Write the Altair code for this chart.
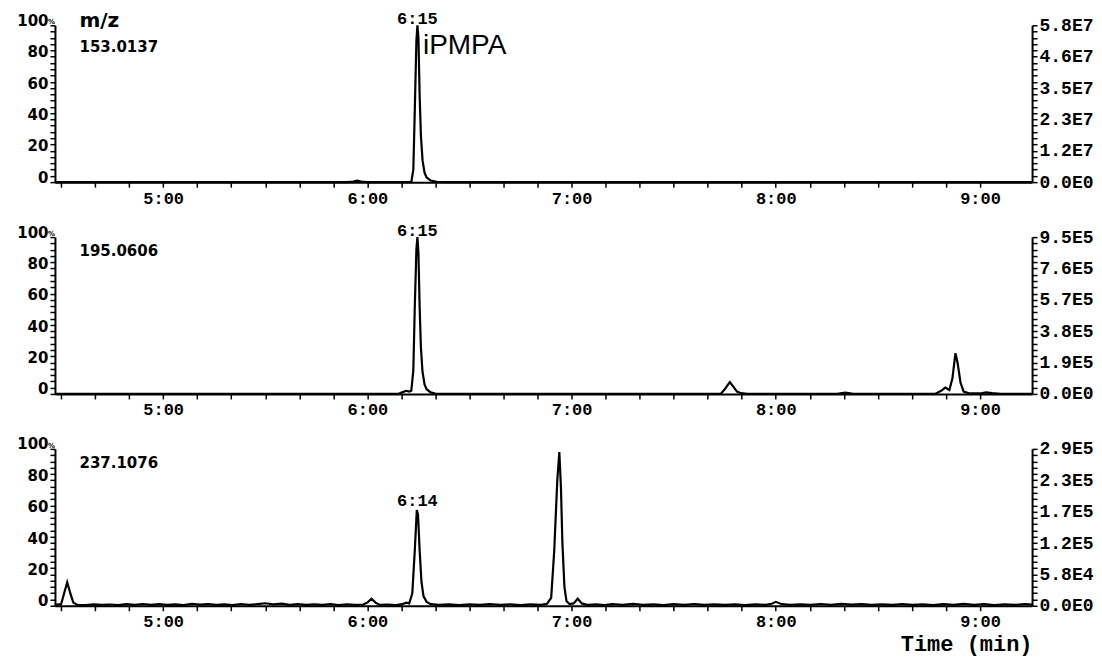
import altair as alt
import pandas as pd

# ---------------- data ----------------
X_MIN, X_MAX = 4.47, 9.255

# m/z 153.0137
T1 = [4.47, 5.90, 5.93, 5.95, 5.97, 6.00, 6.215, 6.225, 6.232, 6.240, 6.245, 6.250,
      6.256, 6.262, 6.270, 6.280, 6.290, 6.310, 6.340, 6.400, 9.255]
I1 = [0, 0, 0.4, 1.0, 0.4, 0, 0, 8, 45, 90, 100, 92,
      55, 30, 14, 6, 3, 1, 0.2, 0, 0]

# m/z 195.0606
T2 = [4.47, 6.15, 6.17, 6.19, 6.205, 6.215, 6.225, 6.232, 6.240, 6.245, 6.250, 6.256,
      6.262, 6.270, 6.280, 6.290, 6.310, 6.340, 7.73, 7.75, 7.775, 7.79, 7.81, 7.83,
      7.86, 8.30, 8.34, 8.38, 8.78, 8.81, 8.83, 8.85, 8.865, 8.88, 8.89, 8.905, 8.92,
      8.95, 9.00, 9.03, 9.06, 9.10, 9.255]
I2 = [0, 0, 1, 2, 1.5, 2, 15, 55, 92, 100, 90, 55,
      30, 14, 6, 3, 1, 0, 0, 3, 7.5, 5, 1.5, 0.5,
      0, 0, 0.8, 0, 0, 2, 4, 2.5, 10, 26, 20, 7, 1.5,
      0.3, 0.3, 1, 0.5, 0, 0]

# m/z 237.1076
T3 = [4.47, 4.50, 4.515, 4.53, 4.545, 4.56, 4.58, 4.62, 4.66, 4.70, 4.74, 4.78, 4.82,
      4.86, 4.90, 4.94, 4.98, 5.02, 5.06, 5.10, 5.14, 5.18, 5.22, 5.26, 5.30, 5.34,
      5.38, 5.42, 5.46, 5.50, 5.54, 5.58, 5.62, 5.66, 5.70, 5.74, 5.78, 5.82, 5.86,
      5.90, 5.94, 5.98, 6.00, 6.02, 6.04, 6.06, 6.10, 6.14, 6.17, 6.19, 6.205, 6.22,
      6.232, 6.242, 6.248, 6.256, 6.265, 6.275, 6.29, 6.31, 6.35, 6.40, 6.45, 6.50,
      6.55, 6.60, 6.65, 6.70, 6.75, 6.80, 6.85, 6.88, 6.90, 6.915, 6.93, 6.94, 6.948,
      6.955, 6.965, 6.975, 6.99, 7.01, 7.03, 7.05, 7.08, 7.12, 7.16, 7.20, 7.25, 7.30,
      7.35, 7.40, 7.45, 7.50, 7.55, 7.60, 7.65, 7.70, 7.75, 7.80, 7.85, 7.90, 7.95,
      7.98, 8.00, 8.03, 8.07, 8.12, 8.17, 8.22, 8.27, 8.32, 8.37, 8.42, 8.47, 8.52,
      8.57, 8.62, 8.67, 8.72, 8.77, 8.82, 8.87, 8.92, 8.97, 9.02, 9.07, 9.12, 9.17,
      9.22, 9.255]
I3 = [0.5, 1, 8, 15, 8, 2, 0.5, 0.4, 0.9, 0.5, 0.8, 0.4, 1.0,
      0.5, 1.1, 0.6, 1.0, 0.5, 0.9, 0.4, 1.2, 0.7, 1.0, 0.5, 0.9, 0.4,
      1.1, 0.5, 1.0, 1.6, 0.9, 1.3, 0.6, 1.0, 0.5, 0.9, 0.6, 1.0, 0.4,
      0.9, 0.5, 0.8, 2, 4.5, 2, 0.5, 0.8, 0.4, 1, 2, 1.5, 8,
      35, 61, 58, 35, 15, 6, 2.5, 1, 0.5, 0.9, 0.4, 0.9,
      0.5, 1.0, 0.6, 0.9, 0.4, 0.9, 0.6, 1.3, 5, 35, 80, 98, 75,
      40, 12, 3, 1, 1.5, 4.5, 1.5, 0.5, 0.9, 0.4, 1.0, 0.5, 1.2,
      0.6, 0.9, 0.4, 1.0, 0.5, 1.1, 0.6, 0.9, 0.5, 0.9, 0.4, 0.9, 0.6,
      1.3, 2.5, 1, 0.5, 0.9, 0.5, 1.1, 0.6, 1.2, 0.7, 1.0, 0.5, 0.9,
      0.5, 1.0, 0.6, 0.9, 0.4, 1.0, 0.5, 1.2, 0.6, 1.0, 0.4, 0.9, 0.5,
      1.1, 0.8]

MASSES = ["153.0137", "195.0606", "237.1076"]
PEAK_LABELS = ["6:15", "6:15", "6:14"]
PEAK_LABEL_T = [6.245, 6.245, 6.245]
PEAK_LABEL_Y = [104, 104, 67]
MASS_LABEL_Y = [86, 91, 91]

RIGHT_LABELS = [
    ["0.0E0", "1.2E7", "2.3E7", "3.5E7", "4.6E7", "5.8E7"],
    ["0.0E0", "1.9E5", "3.8E5", "5.7E5", "7.6E5", "9.5E5"],
    ["0.0E0", "5.8E4", "1.2E5", "1.7E5", "2.3E5", "2.9E5"],
]

X_TICKS = [round(4.5 + k / 6, 6) for k in range(28)]   # every 10 s
Y_TICKS = list(range(0, 101, 4))

W, H = 978, 157

xscale = alt.Scale(domain=[X_MIN, X_MAX], nice=False, zero=False)
yscale = alt.Scale(domain=[0, 100], nice=False, zero=False)

MONO = "Liberation Mono"
SANS = "DejaVu Sans"


def make_x_axis(last):
    return alt.Axis(
        values=X_TICKS,
        labelExpr="abs(datum.value - round(datum.value)) < 0.01 ? round(datum.value) + ':00' : ''",
        tickSize=5, labelPadding=3, labelFont=MONO, labelFontSize=17,
        labelFontWeight="bold", labelOverlap=False, labelFlush=False,
        title="Time (min)" if last else None,
        titleFont=MONO, titleFontSize=22, titleFontWeight="bold",
        titleAnchor="end", titlePadding=4, titleColor="black",
    )


def text_layer(rows, xaxis, font, size, weight, align="left", baseline="middle"):
    df = pd.DataFrame(rows, columns=["t", "v", "label"])
    return alt.Chart(df).mark_text(
        font=font, fontSize=size, fontWeight=weight, align=align,
        baseline=baseline, color="black"
    ).encode(
        x=alt.X("t:Q", scale=xscale, axis=xaxis),
        y=alt.Y("v:Q", scale=yscale, axis=None),
        text="label:N",
    )


def panel(i, times, vals, last):
    df = pd.DataFrame({"t": times, "v": vals})
    xaxis = make_x_axis(last)
    rl = RIGHT_LABELS[i]
    right_expr = ("datum.value % 20 == 0 ? [" + ",".join("'%s'" % s for s in rl)
                  + "][datum.value / 20] : ''")
    line = alt.Chart(df).mark_line(color="black", strokeWidth=2.2).encode(
        x=alt.X("t:Q", scale=xscale, axis=xaxis),
        y=alt.Y("v:Q", scale=yscale, axis=alt.Axis(
            orient="left", values=Y_TICKS,
            labelExpr="datum.value % 20 == 0 ? '' + datum.value : ''",
            tickSize=5, labelPadding=2, labelFont=SANS, labelFontSize=15,
            labelFontWeight="bold", labelBaseline="alphabetic",
            labelOverlap=False, labelFlush=False, title=None)),
    )
    right = alt.Chart(df).mark_line(opacity=0).encode(
        x=alt.X("t:Q", scale=xscale, axis=xaxis),
        y=alt.Y("v:Q", scale=yscale, axis=alt.Axis(
            orient="right", values=Y_TICKS, labelExpr=right_expr,
            tickSize=5, labelPadding=2, labelFont=MONO, labelFontSize=18,
            labelFontWeight="bold", labelBaseline="middle",
            labelOverlap=False, labelFlush=False, title=None)),
    )
    layers = [line, right]
    layers.append(text_layer([[X_MIN, 100, "%"]], xaxis, SANS, 7, "bold",
                             align="right", baseline="bottom"))
    layers.append(text_layer([[4.59, MASS_LABEL_Y[i], MASSES[i]]], xaxis, SANS, 15, "bold"))
    layers.append(text_layer([[PEAK_LABEL_T[i], PEAK_LABEL_Y[i], PEAK_LABELS[i]]],
                             xaxis, MONO, 17, "bold", align="center"))
    if i == 0:
        layers.append(text_layer([[4.59, 103, "m/z"]], xaxis, SANS, 20, "bold"))
        layers.append(text_layer([[6.272, 87, "iPMPA"]], xaxis, "Liberation Sans", 28, "normal"))
    return alt.layer(*layers).resolve_scale(y="independent").properties(width=W, height=H)


chart = alt.vconcat(
    panel(0, T1, I1, False),
    panel(1, T2, I2, False),
    panel(2, T3, I3, True),
    spacing=55, bounds="flush",
).properties(
    padding={"left": 8, "top": 1, "right": 0, "bottom": 4}
).configure_view(stroke=None).configure_axis(
    domainColor="black", domainWidth=2, tickColor="black", tickWidth=1.5,
    grid=False, labelColor="black"
)

chart.save("out.html", embed_options={"renderer": "svg", "actions": False})
